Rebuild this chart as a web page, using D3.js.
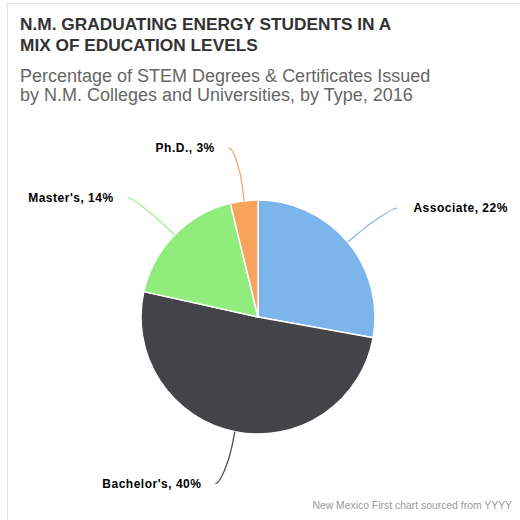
<!DOCTYPE html>
<html>
<head>
<meta charset="utf-8">
<script src="https://cdn.jsdelivr.net/npm/d3@7"></script>
<style>
  body { margin: 0; background: #fff; }
  svg { display: block; font-family: "Liberation Sans", Arial, Helvetica, sans-serif; }
</style>
</head>
<body>
<div id="chart"></div>
<script>
var width = 520;
var height = 520;

// data
var categories = ["Associate", "Bachelor's", "Master's", "Ph.D."];
var values = [22, 40, 14, 3];
var titleLines = ["N.M. GRADUATING ENERGY STUDENTS IN A", "MIX OF EDUCATION LEVELS"];
var subtitleLines = ["Percentage of STEM Degrees & Certificates Issued", "by N.M. Colleges and Universities, by Type, 2016"];
var credit = "New Mexico First chart sourced from YYYY";

var colors = ["#7cb5ec", "#434348", "#90ed7d", "#f7a35c"];

var data = categories.map(function(c, i){
  return {name: c, value: values[i]};
});

var svg = d3.select("#chart")
  .append("svg")
    .attr("width", width)
    .attr("height", height);

// frame lines (top and left)
svg.append("line")
  .attr("x1", 7).attr("x2", width)
  .attr("y1", 3.5).attr("y2", 3.5)
  .attr("stroke", "#e3e3e3");
svg.append("line")
  .attr("x1", 7.5).attr("x2", 7.5)
  .attr("y1", 3).attr("y2", height)
  .attr("stroke", "#e3e3e3");

svg.selectAll(".title")
  .data(titleLines)
  .enter()
  .append("text")
    .attr("class", "title")
    .attr("x", 20)
    .attr("y", (d, i) => 29.5 + i * 21)
    .style("font-size", "17.3px")
    .style("font-weight", "bold")
    .style("fill", "#333")
    .text(d => d);

svg.selectAll(".subtitle")
  .data(subtitleLines)
  .enter()
  .append("text")
    .attr("class", "subtitle")
    .attr("x", 20)
    .attr("y", (d, i) => 81.5 + i * 19.5)
    .style("font-size", "18px")
    .style("fill", "#666")
    .text(d => d);

svg.append("text")
  .attr("x", 512)
  .attr("y", 509)
  .attr("text-anchor", "end")
  .style("font-size", "10.4px")
  .style("fill", "#999")
  .text(credit);

var cx = 258, cy = 317, radius = 117;

var pie = d3.pie()
  .sort(null)
  .value(d => d.value);

var arc = d3.arc()
  .innerRadius(0)
  .outerRadius(radius);

var arcs = pie(data);

var g = svg.append("g")
  .attr("transform", "translate(" + cx + "," + cy + ")");

g.selectAll("path.slice")
  .data(arcs)
  .enter()
  .append("path")
    .attr("class", "slice")
    .attr("d", arc)
    .attr("fill", (d, i) => colors[i])
    .attr("stroke", "#fff")
    .attr("stroke-width", 1.5)
    .attr("stroke-linejoin", "round");

// labels with curved connectors
function pointAt(a, r){
  return [Math.sin(a) * r, -Math.cos(a) * r];
}

var labelR = 170;

arcs.forEach(function(d, i){
  var mid = (d.startAngle + d.endAngle) / 2;
  var right = Math.sin(mid) > 0;
  var edge = pointAt(mid, radius);
  var brk = pointAt(mid, radius + 15);
  var p = pointAt(mid, labelR);
  var end = [p[0] + (right ? 9 : -9), p[1]];
  var c1 = [end[0] + (right ? -5 : 5), end[1]];
  var c2 = [2 * brk[0] - edge[0], 2 * brk[1] - edge[1]];

  var path = d3.path();
  path.moveTo(end[0], end[1]);
  path.bezierCurveTo(c1[0], c1[1], c2[0], c2[1], brk[0], brk[1]);
  path.lineTo(edge[0], edge[1]);

  g.append("path")
    .attr("d", path.toString())
    .attr("fill", "none")
    .attr("stroke", colors[i])
    .attr("stroke-width", 1.2);

  g.append("text")
    .attr("x", end[0] + (right ? 16 : -14))
    .attr("y", end[1])
    .attr("dy", "0.35em")
    .attr("text-anchor", right ? "start" : "end")
    .style("font-size", "12px")
    .style("letter-spacing", "0.5px")
    .style("font-weight", "bold")
    .style("fill", "#000")
    .text(d.data.name + ", " + d.data.value + "%");
});
</script>
</body>
</html>
